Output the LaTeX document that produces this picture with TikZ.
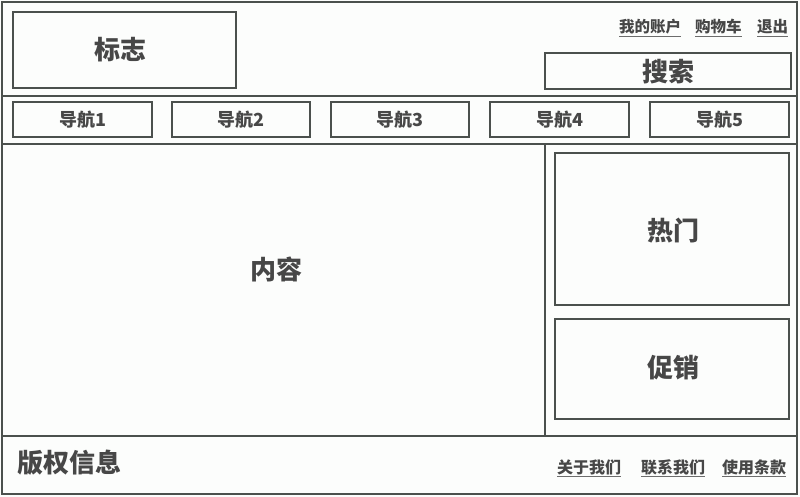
\documentclass[tikz,border=0pt]{standalone}
\usepackage{fontspec}
\setmainfont{Noto Sans CJK SC}
\definecolor{frame}{HTML}{4B504D}
\definecolor{txt}{HTML}{474747}
\definecolor{bg}{HTML}{FCFDFC}
\tikzset{
  box/.style={draw=frame, line width=2pt},
  lbl/.style={text=txt, inner sep=0pt, font=\bfseries\fontsize{#1}{#1}\selectfont},
  lbl/.default=18,
  link/.style={text=txt, inner sep=0pt, anchor=base west, font=\bfseries\fontsize{15.5}{15.5}\selectfont},
  uline/.style={draw=txt!80, line width=1pt}
}
\begin{document}
\begin{tikzpicture}[x=1pt,y=-1pt]
\useasboundingbox (0,0) rectangle (800,497);
\fill[bg] (0,0) rectangle (800,497);
% outer frame and dividers
\draw[box] (2,2) rectangle (797,494);
\draw[box] (2,96) -- (797,96);
\draw[box] (2,144) -- (797,144);
\draw[box] (2,436) -- (797,436);
\draw[box] (545,144) -- (545,436);
% header
\draw[box] (13,12) rectangle (236,88);
\node[lbl=26] (logo) at (120,50) {标志};
\draw[box] (545,53) rectangle (791,89);
\node[lbl=26] (search) at (668,72) {搜索};
\node[link] (acct) at (619,33) {我的账户};
\node[link] (cart) at (695,33) {购物车};
\node[link] (quit) at (757,33) {退出};
\foreach \n in {acct,cart,quit}
  \draw[uline] ([yshift=-3.5pt]\n.base west) -- ([yshift=-3.5pt]\n.base east);
% navigation
\foreach \i/\a/\b in {1/13/152,2/172/310,3/331/469,4/490/629,5/650/789}{
  \draw[box] (\a,102) rectangle (\b,137);
  \node[lbl=18] (nav\i) at ({(\a+\b)/2},119.5) {导航\i};
}
% content
\node[lbl=26] (content) at (276,269) {内容};
% sidebar
\draw[box] (555,153) rectangle (789,305);
\node[lbl=26] (hot) at (673,231) {热门};
\draw[box] (555,319) rectangle (789,419);
\node[lbl=26] (promo) at (673,368) {促销};
% footer
\node[lbl=26, anchor=west] (copy) at (17,463) {版权信息};
\node[link, font=\bfseries\fontsize{16}{16}\selectfont] (about) at (557,473) {关于我们};
\node[link, font=\bfseries\fontsize{16}{16}\selectfont] (contact) at (641,473) {联系我们};
\node[link, font=\bfseries\fontsize{16}{16}\selectfont] (terms) at (722,473) {使用条款};
\foreach \n in {about,contact,terms}
  \draw[uline] ([yshift=-3.5pt]\n.base west) -- ([yshift=-3.5pt]\n.base east);
\end{tikzpicture}
\end{document}
